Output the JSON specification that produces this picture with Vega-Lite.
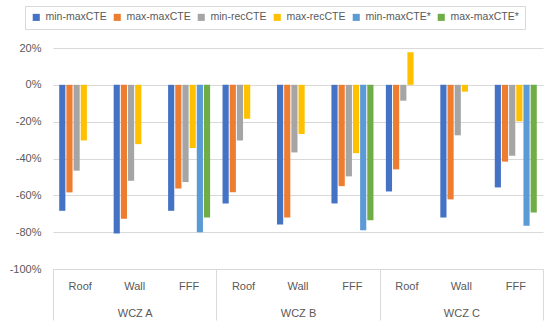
{
  "$schema": "https://vega.github.io/schema/vega-lite/v6.json",
  "autosize": {"type": "none"},
  "padding": {"left": 53, "top": 48, "right": 7, "bottom": 58},
  "width": 490,
  "height": 221,
  "config": {
    "font": "Liberation Sans",
    "view": {"stroke": null},
    "axis": {"labelColor": "#595959", "labelFontSize": 11, "labelFont": "Liberation Sans"}
  },
  "data": {
    "values": [
      {"wcz": "WCZ A", "cat": "WCZ A|Roof", "s": "min-maxCTE", "v": -68.4},
      {"wcz": "WCZ A", "cat": "WCZ A|Roof", "s": "max-maxCTE", "v": -58.4},
      {"wcz": "WCZ A", "cat": "WCZ A|Roof", "s": "min-recCTE", "v": -46.6},
      {"wcz": "WCZ A", "cat": "WCZ A|Roof", "s": "max-recCTE", "v": -30.2},
      {"wcz": "WCZ A", "cat": "WCZ A|Wall", "s": "min-maxCTE", "v": -80.7},
      {"wcz": "WCZ A", "cat": "WCZ A|Wall", "s": "max-maxCTE", "v": -72.7},
      {"wcz": "WCZ A", "cat": "WCZ A|Wall", "s": "min-recCTE", "v": -52.1},
      {"wcz": "WCZ A", "cat": "WCZ A|Wall", "s": "max-recCTE", "v": -32.2},
      {"wcz": "WCZ A", "cat": "WCZ A|FFF", "s": "min-maxCTE", "v": -68.4},
      {"wcz": "WCZ A", "cat": "WCZ A|FFF", "s": "max-maxCTE", "v": -56.3},
      {"wcz": "WCZ A", "cat": "WCZ A|FFF", "s": "min-recCTE", "v": -52.8},
      {"wcz": "WCZ A", "cat": "WCZ A|FFF", "s": "max-recCTE", "v": -34.3},
      {"wcz": "WCZ A", "cat": "WCZ A|FFF", "s": "min-maxCTE*", "v": -80.0},
      {"wcz": "WCZ A", "cat": "WCZ A|FFF", "s": "max-maxCTE*", "v": -72.0},
      {"wcz": "WCZ B", "cat": "WCZ B|Roof", "s": "min-maxCTE", "v": -64.4},
      {"wcz": "WCZ B", "cat": "WCZ B|Roof", "s": "max-maxCTE", "v": -58.3},
      {"wcz": "WCZ B", "cat": "WCZ B|Roof", "s": "min-recCTE", "v": -30.2},
      {"wcz": "WCZ B", "cat": "WCZ B|Roof", "s": "max-recCTE", "v": -18.4},
      {"wcz": "WCZ B", "cat": "WCZ B|Wall", "s": "min-maxCTE", "v": -75.8},
      {"wcz": "WCZ B", "cat": "WCZ B|Wall", "s": "max-maxCTE", "v": -72.0},
      {"wcz": "WCZ B", "cat": "WCZ B|Wall", "s": "min-recCTE", "v": -36.7},
      {"wcz": "WCZ B", "cat": "WCZ B|Wall", "s": "max-recCTE", "v": -26.7},
      {"wcz": "WCZ B", "cat": "WCZ B|FFF", "s": "min-maxCTE", "v": -64.4},
      {"wcz": "WCZ B", "cat": "WCZ B|FFF", "s": "max-maxCTE", "v": -55.0},
      {"wcz": "WCZ B", "cat": "WCZ B|FFF", "s": "min-recCTE", "v": -49.7},
      {"wcz": "WCZ B", "cat": "WCZ B|FFF", "s": "max-recCTE", "v": -37.1},
      {"wcz": "WCZ B", "cat": "WCZ B|FFF", "s": "min-maxCTE*", "v": -78.9},
      {"wcz": "WCZ B", "cat": "WCZ B|FFF", "s": "max-maxCTE*", "v": -73.5},
      {"wcz": "WCZ C", "cat": "WCZ C|Roof", "s": "min-maxCTE", "v": -57.9},
      {"wcz": "WCZ C", "cat": "WCZ C|Roof", "s": "max-maxCTE", "v": -45.9},
      {"wcz": "WCZ C", "cat": "WCZ C|Roof", "s": "min-recCTE", "v": -8.6},
      {"wcz": "WCZ C", "cat": "WCZ C|Roof", "s": "max-recCTE", "v": 17.7},
      {"wcz": "WCZ C", "cat": "WCZ C|Wall", "s": "min-maxCTE", "v": -72.0},
      {"wcz": "WCZ C", "cat": "WCZ C|Wall", "s": "max-maxCTE", "v": -62.2},
      {"wcz": "WCZ C", "cat": "WCZ C|Wall", "s": "min-recCTE", "v": -27.4},
      {"wcz": "WCZ C", "cat": "WCZ C|Wall", "s": "max-recCTE", "v": -3.7},
      {"wcz": "WCZ C", "cat": "WCZ C|FFF", "s": "min-maxCTE", "v": -55.7},
      {"wcz": "WCZ C", "cat": "WCZ C|FFF", "s": "max-maxCTE", "v": -41.7},
      {"wcz": "WCZ C", "cat": "WCZ C|FFF", "s": "min-recCTE", "v": -38.5},
      {"wcz": "WCZ C", "cat": "WCZ C|FFF", "s": "max-recCTE", "v": -19.8},
      {"wcz": "WCZ C", "cat": "WCZ C|FFF", "s": "min-maxCTE*", "v": -76.5},
      {"wcz": "WCZ C", "cat": "WCZ C|FFF", "s": "max-maxCTE*", "v": -69.3}
    ]
  },
  "layer": [
    {
      "mark": {"type": "bar"},
      "encoding": {
        "x": {
          "field": "cat", "type": "nominal", "sort": null,
          "scale": {"paddingInner": 0.228, "paddingOuter": 0.114},
          "axis": {"orient": "bottom", "title": null, "ticks": false, "domain": false, "grid": false, "labelAngle": 0, "labelPadding": 11, "labelExpr": "split(datum.label, '|')[1]"}
        },
        "xOffset": {
          "field": "s", "type": "nominal",
          "scale": {"domain": ["min-maxCTE", "max-maxCTE", "min-recCTE", "max-recCTE", "min-maxCTE*", "max-maxCTE*"], "paddingInner": 0.14}
        },
        "y": {
          "field": "v", "type": "quantitative",
          "scale": {"domain": [-100, 20], "nice": false},
          "axis": {"title": null, "values": [-100, -80, -60, -40, -20, 0, 20], "labelExpr": "datum.value + '%'", "ticks": false, "domain": false, "labelPadding": 12, "gridColor": "#d9d9d9", "gridWidth": 1}
        },
        "color": {
          "field": "s", "type": "nominal",
          "scale": {"domain": ["min-maxCTE", "max-maxCTE", "min-recCTE", "max-recCTE", "min-maxCTE*", "max-maxCTE*"], "range": ["#4472C4", "#ED7D31", "#A5A5A5", "#FFC000", "#5B9BD5", "#70AD47"]},
          "legend": {"title": null, "orient": "none", "legendX": -28, "legendY": -42, "direction": "horizontal", "symbolType": "square", "symbolSize": 50, "symbolStrokeWidth": 0, "labelFontSize": 10.5, "labelColor": "#595959", "labelFont": "Liberation Sans", "columnPadding": 5, "labelOffset": 4, "padding": 6, "strokeColor": "#d9d9d9"}
        }
      }
    },
    {
      "mark": {"type": "rule", "opacity": 0},
      "encoding": {
        "x": {
          "field": "wcz", "type": "nominal", "sort": null,
          "scale": {"paddingInner": 0, "paddingOuter": 0},
          "axis": {"orient": "bottom", "title": null, "tickBand": "extent", "ticks": true, "tickSize": 51, "tickColor": "#d9d9d9", "domain": false, "grid": false, "labelAngle": 0, "labelPadding": -13}
        }
      }
    }
  ],
  "resolve": {"scale": {"x": "independent"}, "axis": {"x": "independent"}}
}
